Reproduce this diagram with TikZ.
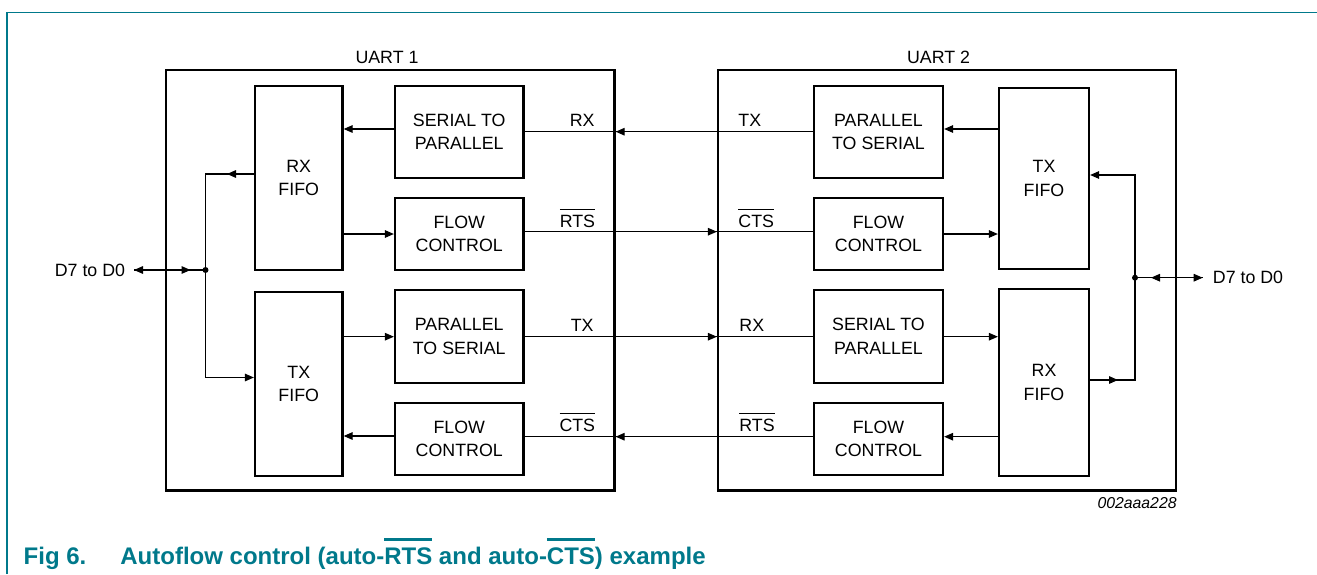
\documentclass[tikz,border=0pt]{standalone}
\usepackage{fontspec}
\setmainfont{Liberation Sans}
\usetikzlibrary{arrows.meta}
\definecolor{nxpteal}{RGB}{0,121,139}
\newcommand\ovl[1]{\vbox{\hrule height 0.5pt\kern 2.5pt\hbox{#1}}}
\newcommand\ovlcap[1]{\vbox{\hrule height 1.5pt\kern 3.2pt\hbox{#1}}}
\begin{document}
\begin{tikzpicture}[x=0.5pt,y=-0.5pt,
  lbl/.style={font=\fontsize{8.9}{11.7}\selectfont, inner sep=0pt},
  blk/.style={draw, line width=1.15pt, align=center, inner sep=0pt, font=\fontsize{8.9}{11.7}\selectfont},
  wire/.style={line width=0.55pt},
  arr/.style={line width=0.55pt, -{Triangle[length=4.5pt,width=3.8pt]}},
  jdot/.style={circle, fill, inner sep=0pt, minimum size=3pt},
  captionstyle/.style={anchor=base west, inner sep=0pt, text=nxpteal, font=\fontsize{12}{14}\selectfont\bfseries}
]
\useasboundingbox (0,0) rectangle (1317,574);
% teal frame
\draw[nxpteal, line width=0.65pt] (7,574) -- (7,12.5) -- (1317,12.5);

% UART boxes
\node[blk, minimum width=224.25pt, minimum height=210.25pt] (u1) at (390.25,280.25) {};
\node[blk, minimum width=229pt, minimum height=210.25pt] (u2) at (947,280.25) {};
\node[lbl, anchor=base] (t1) at (387,63.3) {UART 1};
\node[lbl, anchor=base] (t2) at (938.6,63.3) {UART 2};

% UART 1 blocks
\node[blk, minimum width=64.25pt, minimum height=45.85pt] (s2p1) at (459.25,131.85) {SERIAL TO\\PARALLEL};
\node[blk, minimum width=64.25pt, minimum height=35.85pt] (fc1a) at (459.25,234.15) {FLOW\\CONTROL};
\node[blk, minimum width=64.25pt, minimum height=46.35pt] (p2s1) at (459.25,336.35) {PARALLEL\\TO SERIAL};
\node[blk, minimum width=64.25pt, minimum height=35.85pt] (fc1b) at (459.25,439.15) {FLOW\\CONTROL};
\node[blk, minimum width=43.75pt, minimum height=92pt] (rxf1) at (298.75,178) {RX\\FIFO};
\node[blk, minimum width=43.75pt, minimum height=92pt] (txf1) at (298.75,384) {TX\\FIFO};

% UART 2 blocks
\node[blk, minimum width=64.5pt, minimum height=45.85pt] (p2s2) at (878.5,131.85) {PARALLEL\\TO SERIAL};
\node[blk, minimum width=64.5pt, minimum height=35.85pt] (fc2a) at (878.5,234.15) {FLOW\\CONTROL};
\node[blk, minimum width=64.5pt, minimum height=46.35pt] (s2p2) at (878.5,336.35) {SERIAL TO\\PARALLEL};
\node[blk, minimum width=64.5pt, minimum height=35.85pt] (fc2b) at (878.5,439.15) {FLOW\\CONTROL};
\node[blk, minimum width=45pt, minimum height=90.5pt] (txf2) at (1044,178.5) {TX\\FIFO};
\node[blk, minimum width=45pt, minimum height=93.5pt] (rxf2) at (1044,382.5) {RX\\FIFO};

% signal labels
\node[lbl, anchor=base east] (lrx1) at (595,126.7) {RX};
\node[lbl, anchor=base west] (ltx2) at (738,126.7) {TX};
\node[lbl, anchor=base east] (lrts1) at (595.5,227.7) {\ovl{RTS}};
\node[lbl, anchor=base west] (lcts2) at (738,227.7) {\ovl{CTS}};
\node[lbl, anchor=base east] (ltx1) at (594,331.7) {TX};
\node[lbl, anchor=base west] (lrx2) at (739,331.7) {RX};
\node[lbl, anchor=base east] (lcts1) at (595.5,431.7) {\ovl{CTS}};
\node[lbl, anchor=base west] (lrts2) at (739,431.7) {\ovl{RTS}};

% data bus labels
\node[lbl, anchor=east] (dl) at (125.5,270) {D7 to D0};
\node[lbl, anchor=west] (dr) at (1212.5,277.7) {D7 to D0};

% UART 1 internal connections
\draw[arr] (s2p1.west |- 0,129) -- (rxf1.east |- 0,129);
\draw[arr] (rxf1.east |- 0,234) -- (fc1a.west |- 0,234);
\draw[arr] (txf1.east |- 0,336.7) -- (p2s1.west |- 0,336.7);
\draw[arr] (fc1b.west |- 0,436) -- (txf1.east |- 0,436);

% left bus
\coordinate (jl) at (205.5,270);
\coordinate (jlt) at (205.5,174);
\coordinate (jlb) at (205.5,377.5);
\coordinate (ml1) at (227,174);
\coordinate (ml2) at (190.5,270);
\coordinate (al) at (134,270);
\draw[arr] (rxf1.west |- jlt) -- (jlt) -- (jlb) -- (txf1.west |- jlb);
\draw[arr] (rxf1.west |- jlt) -- (ml1);
\draw[arr] (jl) -- (al);
\draw[arr] (al) -- (ml2);
\node[jdot] (dotl) at (jl) {};

% cross connections
\draw[wire] (p2s2.west |- 0,131.7) -- (s2p1.east |- 0,131.7);
\draw[arr] (p2s2.west |- 0,131.7) -- (u1.east |- 0,131.7);
\draw[wire] (fc1a.east |- 0,231.7) -- (fc2a.west |- 0,231.7);
\draw[arr] (fc1a.east |- 0,231.7) -- (u2.west |- 0,231.7);
\draw[wire] (p2s1.east |- 0,336.7) -- (s2p2.west |- 0,336.7);
\draw[arr] (p2s1.east |- 0,336.7) -- (u2.west |- 0,336.7);
\draw[wire] (fc2b.west |- 0,436.7) -- (fc1b.east |- 0,436.7);
\draw[arr] (fc2b.west |- 0,436.7) -- (u1.east |- 0,436.7);

% UART 2 internal connections
\draw[arr] (txf2.west |- 0,129) -- (p2s2.east |- 0,129);
\draw[arr] (fc2a.east |- 0,234) -- (txf2.west |- 0,234);
\draw[arr] (s2p2.east |- 0,336.7) -- (rxf2.west |- 0,336.7);
\draw[arr] (rxf2.west |- 0,436.7) -- (fc2b.east |- 0,436.7);

% right bus
\coordinate (jr) at (1135,277.7);
\coordinate (jrt) at (1135,175);
\coordinate (jrb) at (1135,380);
\coordinate (mr1) at (1118,380);
\coordinate (mr2) at (1151,277.7);
\coordinate (ar) at (1202.7,277.7);
\draw[arr] (rxf2.east |- jrb) -- (jrb) -- (jrt) -- (txf2.east |- jrt);
\draw[arr] (rxf2.east |- jrb) -- (mr1);
\draw[arr] (jr) -- (ar);
\draw[arr] (ar) -- (mr2);
\node[jdot] (dotr) at (jr) {};

% figure code
\node[inner sep=0pt, anchor=base east, font=\fontsize{7.9}{9}\selectfont\itshape] (code) at (1177,508.3) {002aaa228};

% caption
\node[captionstyle] (fig) at (23.3,564.5) {Fig 6.};
\node[captionstyle] (captxt) at (120,564.5) {Autoflow control (auto-\ovlcap{RTS} and auto-\ovlcap{CTS}) example};
\end{tikzpicture}
\end{document}
